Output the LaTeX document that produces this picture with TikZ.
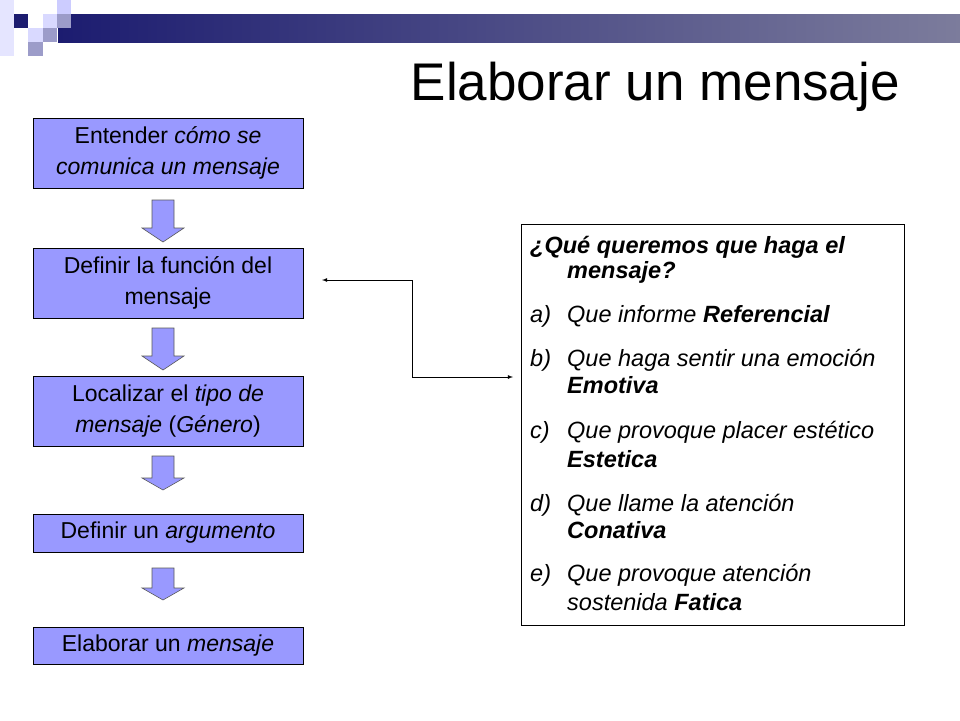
\documentclass[tikz,border=0pt]{standalone}
\usepackage{fontspec}
\setmainfont{Liberation Sans}
\definecolor{boxfill}{HTML}{9999FF}
\definecolor{navy}{HTML}{1C1C70}
\definecolor{greyblue}{HTML}{7C7C9C}
\tikzset{
  flowbox/.style={draw=black, line width=1pt, fill=boxfill, minimum width=270pt, align=center, font=\fontsize{23}{31}\selectfont, inner sep=0pt},
  downarr/.style={draw=gray!70!black, line width=0.6pt, fill=boxfill},
  txt/.style={anchor=west, font=\fontsize{23.5}{26}\selectfont, inner sep=0pt},
}
\newcommand{\dnarrow}[3]{% top y, shaft bottom y, tip y
  \draw[downarr] (152,#1) -- (174,#1) -- (174,#2) -- (184,#2) -- (163,#3) -- (142,#2) -- (152,#2) -- cycle;}
\begin{document}
\begin{tikzpicture}[x=1pt,y=-1pt]
\useasboundingbox (0,0) rectangle (960,720);
% banner
\shade[left color=navy, right color=greyblue] (58,14) rectangle (960,42);
\fill[navy] (14,14) rectangle (28,28);
\fill[blue!15!white] (43,14) rectangle (57,28);
\fill[blue!20!white] (57,0) rectangle (71,14);
\fill[blue!30!gray!60!white] (57,14) rectangle (71,28);
\fill[blue!15!white] (28,28) rectangle (43,42);
\fill[blue!30!gray!60!white] (43,28) rectangle (57,42);
\fill[blue!30!gray!60!white] (28,42) rectangle (43,56);
\fill[blue!10!white] (0,0) rectangle (14,56);
% title
\node[anchor=east, font=\fontsize{53}{53}\selectfont, inner sep=0pt] (title) at (900,87) {Elaborar un mensaje};
% boxes
\node[flowbox, minimum height=70pt] (b1) at (168,153) {Entender \textit{cómo se}\\\textit{comunica un mensaje}};
\node[flowbox, minimum height=70pt] (b2) at (168,283) {Definir la función del\\mensaje};
\node[flowbox, minimum height=70pt] (b3) at (168,411) {Localizar el \textit{tipo de}\\\textit{mensaje} (\textit{Género})};
\node[flowbox, minimum height=38pt] (b4) at (168,533) {Definir un \textit{argumento}};
\node[flowbox, minimum height=37pt] (b5) at (168,645.5) {Elaborar un \textit{mensaje}};
% down arrows
\dnarrow{200}{228}{242}
\dnarrow{328}{356}{370}
\dnarrow{456}{478}{490}
\dnarrow{568}{588}{600}
% right box
\node[draw=black, line width=0.8pt, minimum width=383pt, minimum height=401pt, inner sep=0pt] (rb) at (712.5,424.5) {};
\coordinate (c1) at (412,377);
\coordinate (c2) at (412,280);
\coordinate (e1) at (322,280);
\coordinate (e2) at (513,377);
\draw[line width=0.8pt, -latex] (c2) -- (e1);
\draw[line width=0.8pt, -latex] (c2) -- (c1) -- (e2);
\node[txt] (q1) at (530,247) {\textit{\textbf{¿Qué queremos que haga el}}};
\node[txt] (q2) at (567,272) {\textit{\textbf{mensaje?}}};
\node[txt] (la) at (530,316) {\textit{a)}};
\node[txt] (ta) at (567,316) {\textit{Que informe \textbf{Referencial}}};
\node[txt] (lb) at (530,360) {\textit{b)}};
\node[txt] (tb) at (567,360) {\textit{Que haga sentir una emoción}};
\node[txt] (tb2) at (567,385) {\textit{\textbf{Emotiva}}};
\node[txt] (lc) at (530,432) {\textit{c)}};
\node[txt] (tc) at (567,432) {\textit{Que provoque placer estético}};
\node[txt] (tc2) at (567,459) {\textit{\textbf{Estetica}}};
\node[txt] (ld) at (530,505) {\textit{d)}};
\node[txt] (td) at (567,505) {\textit{Que llame la atención}};
\node[txt] (td2) at (567,530) {\textit{\textbf{Conativa}}};
\node[txt] (le) at (530,575) {\textit{e)}};
\node[txt] (te) at (567,575) {\textit{Que provoque atención}};
\node[txt] (te2) at (567,602) {\textit{sostenida \textbf{Fatica}}};
\end{tikzpicture}
\end{document}
